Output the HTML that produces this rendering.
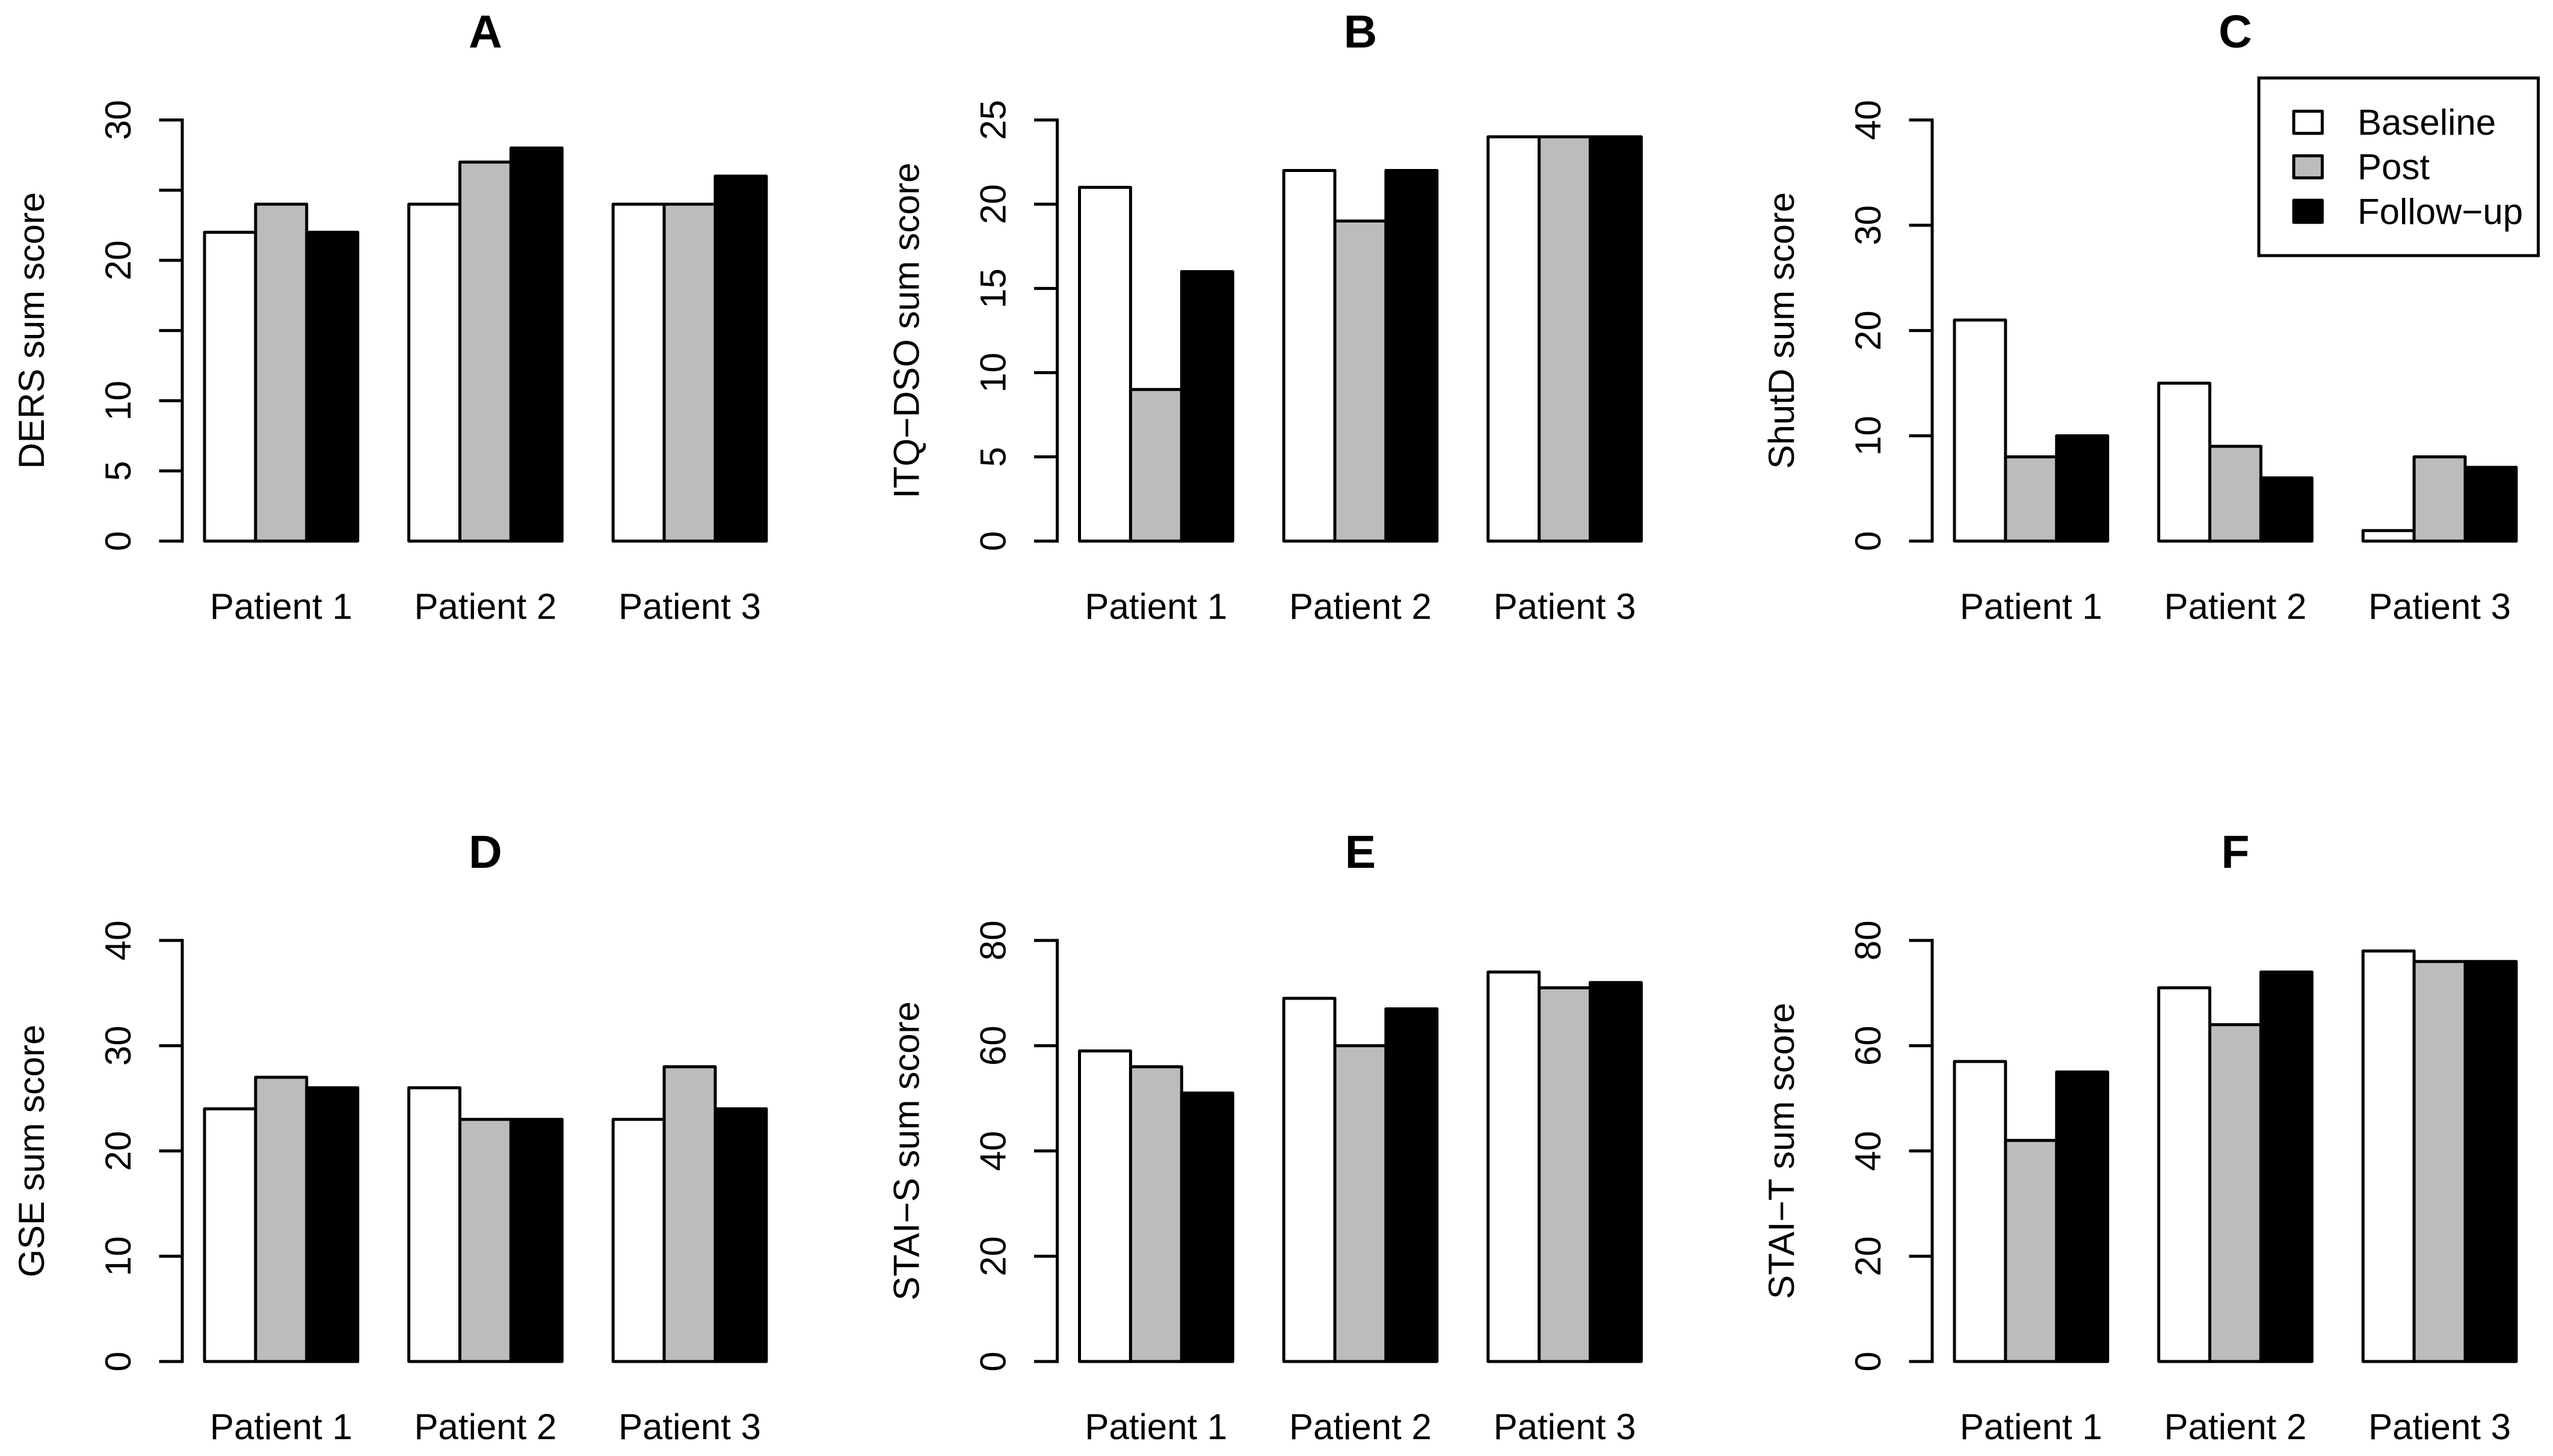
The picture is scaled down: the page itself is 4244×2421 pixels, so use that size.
<!DOCTYPE html>
<html lang="en">
<head>
<meta charset="utf-8">
<title>Sum scores per patient at baseline, post and follow-up</title>
<style>
  html, body { margin: 0; padding: 0; background: #fff; }
  svg { display: block; }
  text { font-family: "Liberation Sans", Arial, sans-serif; fill: #000; }
</style>
</head>
<body>
<svg id="chart" xmlns="http://www.w3.org/2000/svg" width="4244" height="2421" viewBox="0 0 4244 2421">
  <rect x="0" y="0" width="4244" height="2421" fill="#ffffff"/>
  <g id="panels"></g>
  <g>
    <rect x="3755" y="129.7" width="464.5" height="295.3" fill="#ffffff" stroke="#000" stroke-width="5"/>
    <g>
      <rect x="3813" y="185" width="47.4" height="36.7" fill="#ffffff" stroke="#000" stroke-width="5" stroke-linejoin="round"/>
      <text x="3919" y="224" font-size="60">Baseline</text>
    </g>
    <g>
      <rect x="3813" y="259" width="47.4" height="36.7" fill="#bcbcbc" stroke="#000" stroke-width="5" stroke-linejoin="round"/>
      <text x="3919" y="298" font-size="60">Post</text>
    </g>
    <g>
      <rect x="3813" y="333" width="47.4" height="36.7" fill="#000000" stroke="#000" stroke-width="5" stroke-linejoin="round"/>
      <text x="3919" y="372.5" font-size="60">Follow−up</text>
    </g>
  </g>
</svg>
<script>
// Categories and series
const patients = ['Patient 1', 'Patient 2', 'Patient 3'];
const timepoints = ['baseline', 'post', 'follow-up'];

// Scores: one row per patient, one column per timepoint
const dersScores = [[22, 24, 22], [24, 27, 28], [24, 24, 26]];
const itqScores = [[21, 9, 16], [22, 19, 22], [24, 24, 24]];
const shutdScores = [[21, 8, 10], [15, 9, 6], [1, 8, 7]];
const gseScores = [[24, 27, 26], [26, 23, 23], [23, 28, 24]];
const staiSScores = [[59, 56, 51], [69, 60, 67], [74, 71, 72]];
const staiTScores = [[57, 42, 55], [71, 64, 74], [78, 76, 76]];

// Axis ticks (R drops labels that would overlap, so some are blank)
const dersTicks = [0, 5, 10, 15, 20, 25, 30];
const dersTickLabels = ['0', '5', '10', '', '20', '', '30'];
const itqTicks = [0, 5, 10, 15, 20, 25];
const itqTickLabels = ['0', '5', '10', '15', '20', '25'];
const shutdTicks = [0, 10, 20, 30, 40];
const shutdTickLabels = ['0', '10', '20', '30', '40'];
const gseTicks = [0, 10, 20, 30, 40];
const gseTickLabels = ['0', '10', '20', '30', '40'];
const staiSTicks = [0, 20, 40, 60, 80];
const staiSTickLabels = ['0', '20', '40', '60', '80'];
const staiTTicks = [0, 20, 40, 60, 80];
const staiTTickLabels = ['0', '20', '40', '60', '80'];

// Panel titles and y-axis titles
const panelTitles = ['A', 'B', 'C', 'D', 'E', 'F'];
const yAxisTitles = ['DERS sum score', 'ITQ−DSO sum score', 'ShutD sum score', 'GSE sum score', 'STAI−S sum score', 'STAI−T sum score'];
const panelScores = [dersScores, itqScores, shutdScores, gseScores, staiSScores, staiTScores];
const panelTicks = [dersTicks, itqTicks, shutdTicks, gseTicks, staiSTicks, staiTTicks];
const panelTickLabels = [dersTickLabels, itqTickLabels, shutdTickLabels, gseTickLabels, staiSTickLabels, staiTTickLabels];

// Layout
const SVG_NS = 'http://www.w3.org/2000/svg';
const AXIS_X0 = 303;
const PANEL_DX = 1454.5;
const PLOT_TOP = 199.5;
const PLOT_BOTTOM = 899.7;
const ROW_DY = 1364.2;
const BAR_W = 84.9;
const BAR_OFFSET = 37;
const STROKE = 5;
const FILLS = ['#ffffff', '#bcbcbc', '#000000'];

function make(tag, attrs, text) {
  const el = document.createElementNS(SVG_NS, tag);
  for (const k in attrs) el.setAttribute(k, attrs[k]);
  if (text !== undefined) el.textContent = text;
  return el;
}

function yScale(value, maxValue, row) {
  const bottom = PLOT_BOTTOM + row * ROW_DY;
  return bottom - (value / maxValue) * (PLOT_BOTTOM - PLOT_TOP);
}

function xBar(axisX, groupIndex, seriesIndex) {
  return axisX + BAR_OFFSET + (groupIndex * 4 + seriesIndex) * BAR_W;
}

const root = document.getElementById('panels');

panelTitles.forEach(function (title, p) {
  const row = Math.floor(p / 3);
  const col = p % 3;
  const axisX = AXIS_X0 + col * PANEL_DX;
  const ticks = panelTicks[p];
  const tickLabels = panelTickLabels[p];
  const scores = panelScores[p];
  const maxTick = ticks[ticks.length - 1];
  const centerX = axisX + BAR_OFFSET + 5.5 * BAR_W;
  const dy = row * ROW_DY;
  const key = title.toLowerCase();

  const g = make('g', {});
  
  
  root.appendChild(g);

  const titleEl = make('text', { x: centerX, y: 79 + dy, 'font-size': 77, 'font-weight': 'bold', 'text-anchor': 'middle' }, title);
  
  
  g.appendChild(titleEl);

  const yTitleX = axisX - 230;
  const yTitleY = (PLOT_TOP + PLOT_BOTTOM) / 2 + dy;
  const yTitle = make('text', { x: yTitleX, y: yTitleY, 'font-size': 60, 'text-anchor': 'middle', transform: 'rotate(-90 ' + yTitleX + ' ' + yTitleY + ')' }, yAxisTitles[p]);
  
  
  g.appendChild(yTitle);

  const axisLine = make('line', { x1: axisX, x2: axisX, y1: yScale(maxTick, maxTick, row), y2: yScale(0, maxTick, row), stroke: '#000', 'stroke-width': STROKE, 'stroke-linecap': 'square' });
  
  
  g.appendChild(axisLine);

  ticks.forEach(function (t, i) {
    const y = yScale(t, maxTick, row);
    const tick = make('line', { x1: axisX - 38.5, x2: axisX, y1: y, y2: y, stroke: '#000', 'stroke-width': STROKE });
    
    
    g.appendChild(tick);
    if (tickLabels[i] !== '') {
      const lx = axisX - 86;
      const label = make('text', { x: lx, y: y, 'font-size': 60, 'text-anchor': 'middle', transform: 'rotate(-90 ' + lx + ' ' + y + ')' }, tickLabels[i]);
      
      
      g.appendChild(label);
    }
  });

  patients.forEach(function (patient, gi) {
    const baseY = yScale(0, maxTick, row);
    scores[gi].forEach(function (v, si) {
      const topY = yScale(v, maxTick, row);
      const bar = make('rect', { x: xBar(axisX, gi, si), y: topY, width: BAR_W, height: baseY - topY, fill: FILLS[si], stroke: '#000', 'stroke-width': STROKE, 'stroke-linejoin': 'round' });
      
      
      g.appendChild(bar);
    });
    const xl = make('text', { x: xBar(axisX, gi, 0) + 1.5 * BAR_W, y: 1029 + dy, 'font-size': 60, 'text-anchor': 'middle' }, patient);
    
    
    g.appendChild(xl);
  });
});
</script>
</body>
</html>
